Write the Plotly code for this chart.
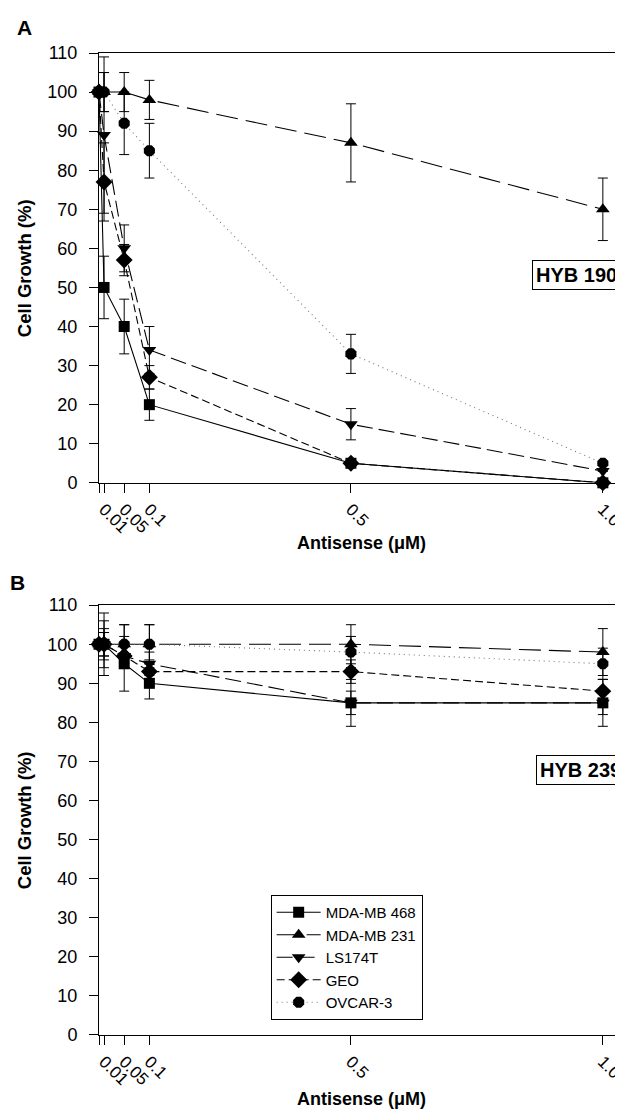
import plotly.graph_objects as go

# ---- data ----
doses = [0, 0.01, 0.05, 0.1, 0.5, 1.0]
tick_vals = [0, 0.01, 0.05, 0.1, 0.5, 1.0]
tick_text = ["", "0.01", "0.05", "0.1", "0.5", "1.0"]
series_names = ["MDA-MB 468", "MDA-MB 231", "LS174T", "GEO", "OVCAR-3"]

# Panel A: HYB 190
a_468 = [100, 50, 40, 20, 5, 0]
a_468_err = [0, 8, 7, 4, 0, 0]
a_231 = [100, 100, 100, 98, 87, 70]
a_231_err = [0, 5, 5, 5, 10, 8]
a_ls = [100, 89, 60, 34, 15, 3]
a_ls_err = [0, 20, 6, 6, 4, 0]
a_geo = [100, 77, 57, 27, 5, 0]
a_geo_err = [0, 10, 4, 3, 0, 0]
a_ov = [100, 100, 92, 85, 33, 5]
a_ov_err = [0, 5, 8, 7, 5, 0]

# Panel B: HYB 239
b_468 = [100, 100, 95, 90, 85, 85]
b_468_err = [0, 8, 7, 4, 6, 6]
b_231 = [100, 100, 100, 100, 100, 98]
b_231_err = [0, 6, 5, 5, 5, 6]
b_ls = [100, 100, 97, 95, 85, 85]
b_ls_err = [0, 4, 3, 3, 3, 3]
b_geo = [100, 100, 97, 93, 93, 88]
b_geo_err = [0, 3, 3, 3, 3, 3]
b_ov = [100, 100, 100, 100, 98, 95]
b_ov_err = [0, 3, 5, 5, 4, 4]

panel_a = [(a_468, a_468_err), (a_231, a_231_err), (a_ls, a_ls_err), (a_geo, a_geo_err), (a_ov, a_ov_err)]
panel_b = [(b_468, b_468_err), (b_231, b_231_err), (b_ls, b_ls_err), (b_geo, b_geo_err), (b_ov, b_ov_err)]

# ---- styles ----
symbols = ["square", "triangle-up", "triangle-down", "diamond", "octagon"]
sizes = [11, 12, 12, 13, 12]
dashes = ["solid", "22px,8px", "16px,6px", "8px,4px", "1px,4px"]
line_colors = ["black", "black", "black", "black", "#777777"]

FONT = "Liberation Sans, Arial, sans-serif"

fig = go.Figure()
for panel, (xa, ya, show) in zip([panel_a, panel_b], [("x", "y", False), ("x2", "y2", True)]):
    for i, (vals, errs) in enumerate(panel):
        fig.add_trace(go.Scatter(
            x=doses, y=vals, xaxis=xa, yaxis=ya,
            name=series_names[i], showlegend=show,
            mode="lines+markers", cliponaxis=False,
            line=dict(color=line_colors[i], width=1.1, dash=dashes[i]),
            marker=dict(symbol=symbols[i], size=sizes[i], color="black", line=dict(width=0)),
            error_y=dict(type="data", array=errs, visible=True, color="black", thickness=1, width=5),
        ))

xcommon = dict(range=[0, 1.04], tickmode="array", tickvals=tick_vals, ticktext=tick_text,
               tickangle=45, ticks="outside", ticklen=9, tickcolor="black", tickwidth=1,
               showline=True, linecolor="black", linewidth=1, mirror=True,
               showgrid=False, zeroline=False, ticklabeloverflow="allow",
               tickfont=dict(family=FONT, size=17, color="black"))
ycommon = dict(range=[0, 110], tickmode="array", tickvals=list(range(0, 111, 10)),
               ticks="outside", ticklen=9, tickcolor="black", tickwidth=1,
               showline=True, linecolor="black", linewidth=1, mirror=False,
               showgrid=False, zeroline=False, ticklabelstandoff=8,
               tickfont=dict(family=FONT, size=18, color="black"))

# the page body has an 8px margin, so the figure is sized/offset to compensate
fig.update_layout(
    width=615, height=1102,
    margin=dict(l=90.5, r=0, t=44.5, b=75),
    paper_bgcolor="white", plot_bgcolor="white",
    xaxis=dict(anchor="y", domain=[0, 1], **xcommon),
    yaxis=dict(anchor="x", domain=[0.5623, 1.0], **ycommon),
    xaxis2=dict(anchor="y2", domain=[0, 1], **xcommon),
    yaxis2=dict(anchor="x2", domain=[0, 0.4377], **ycommon),
    legend=dict(x=0.3276, y=0.1425, xanchor="left", yanchor="top", xref="paper", yref="paper",
                bordercolor="black", borderwidth=1, bgcolor="white",
                font=dict(family=FONT, size=15, color="black"), itemwidth=44),
    showlegend=True,
)

def ann(text, x, y, size, angle=0, xanchor="center", **kw):
    fig.add_annotation(text=text, x=x, y=y, xref="paper", yref="paper", showarrow=False,
                       xanchor=xanchor, yanchor="middle", textangle=angle,
                       font=dict(family=FONT, size=size, color="black"), **kw)

ann("<b>A</b>", -0.143, 1.026, 21)
ann("<b>B</b>", -0.156, 0.461, 21)
ann("<b>Cell Growth (%)</b>", -0.143, 0.781, 18.5, angle=-90)
ann("<b>Cell Growth (%)</b>", -0.143, 0.2188, 18.5, angle=-90)
ann("<b>Antisense (μM)</b>", 0.5, 0.5008, 18)
ann("<b>Antisense (μM)</b>", 0.5, -0.0651, 18)
ann("<b>HYB 190</b>", 0.827, 0.7735, 20, xanchor="left", bordercolor="black", borderwidth=1,
    borderpad=3, width=110, align="left", bgcolor="white")
ann("<b>HYB 239</b>", 0.834, 0.2697, 20, xanchor="left", bordercolor="black", borderwidth=1,
    borderpad=3, width=110, align="left", bgcolor="white")

fig.write_html("out.html")
